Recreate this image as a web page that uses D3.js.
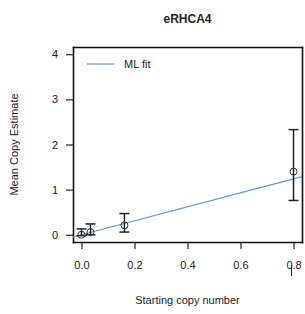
<!DOCTYPE html>
<html>
<head>
<meta charset="utf-8">
<script src="https://d3js.org/d3.v7.min.js"></script>
<style>
  body { margin: 0; background: #fff; }
  text { font-family: "Liberation Sans", Arial, sans-serif; fill: #222; }
</style>
</head>
<body>
<svg width="305" height="314"></svg>
<script>
// starting copy number vs mean copy estimate with error bars
let startCopy = [0.0, 0.034, 0.162, 0.8]
let meanEst = [0.0, 0.06, 0.21, 1.4]
let lowerEst = [-0.02, 0.0, 0.06, 0.76]
let upperEst = [0.13, 0.24, 0.47, 2.33]
let fitSlope = 1.55
let xTicks = [0, 0.2, 0.4, 0.6, 0.8]
let yTicks = [0, 1, 2, 3, 4]

let svg = d3.select('svg')
let plotL = 73, plotR = 302, plotT = 47, plotB = 242

let x = d3.scaleLinear().domain([-0.032, 0.832]).range([plotL, plotR])
let y = d3.scaleLinear().domain([-0.16, 4.16]).range([plotB, plotT])

let xAxis = svg.append('g')
  .attr('transform', 'translate(0,' + plotB + ')')
  .call(d3.axisBottom(x).tickValues(xTicks).tickFormat(d3.format('.1f')).tickSizeInner(7).tickSizeOuter(0).tickPadding(12))
let yAxis = svg.append('g')
  .attr('transform', 'translate(' + plotL + ',0)')
  .call(d3.axisLeft(y).tickValues(yTicks).tickFormat(d3.format('d')).tickSizeInner(7).tickSizeOuter(0).tickPadding(8))
// top and right sides of the frame
let topAxis = svg.append('g')
  .attr('transform', 'translate(0,' + plotT + ')')
  .call(d3.axisTop(x).tickValues([]).tickSizeOuter(0))
let rightAxis = svg.append('g')
  .attr('transform', 'translate(' + plotR + ',0)')
  .call(d3.axisRight(y).tickValues([]).tickSizeOuter(0))

;[xAxis, yAxis, topAxis, rightAxis].forEach(a => {
  a.select('.domain')
    .attr('stroke', '#111')
    .attr('stroke-width', 1.6)
    .attr('stroke-linecap', 'square')
  a.selectAll('line').attr('stroke', '#222').attr('stroke-width', 1.2)
  a.selectAll('text').attr('font-size', 11).style('font-family', '"Liberation Sans", Arial, sans-serif').attr('fill', '#222')
})

// stray mark over the 0.8 label
xAxis.append('line')
  .attr('x1', x(0.8) - 2).attr('x2', x(0.8) - 2)
  .attr('y1', 23).attr('y2', 34)
  .attr('stroke', '#222').attr('stroke-width', 1)

// ML fit line
let fitLine = d3.line().x(d => x(d)).y(d => y(fitSlope * d))
svg.append('path')
  .datum(x.domain())
  .attr('d', fitLine)
  .attr('fill', 'none')
  .attr('stroke', '#5b9bd5')
  .attr('stroke-width', 1.2)

// error bars
let cap = 5
let bars = svg.append('g')
startCopy.forEach((s, i) => {
  let cx = x(s)
  bars.append('line')
    .attr('x1', cx).attr('x2', cx)
    .attr('y1', y(lowerEst[i])).attr('y2', y(upperEst[i]))
    .attr('stroke', '#222').attr('stroke-width', 1.5)
  ;[lowerEst[i], upperEst[i]].forEach(v => {
    bars.append('line')
      .attr('x1', cx - cap).attr('x2', cx + cap)
      .attr('y1', y(v)).attr('y2', y(v))
      .attr('stroke', '#222').attr('stroke-width', 1.5)
  })
})

// points
svg.append('g')
  .selectAll('circle')
  .data(startCopy)
  .enter().append('circle')
  .attr('cx', d => x(d))
  .attr('cy', (d, i) => y(meanEst[i]))
  .attr('r', 3.5)
  .attr('fill', 'none')
  .attr('stroke', '#333')
  .attr('stroke-width', 1)

// legend
svg.append('line')
  .attr('x1', 87).attr('x2', 114).attr('y1', 64).attr('y2', 64)
  .attr('stroke', '#5b9bd5').attr('stroke-width', 1.2)
svg.append('text')
  .attr('x', 124).attr('y', 68)
  .attr('font-size', 11)
  .text('ML fit')

// titles
svg.append('text')
  .attr('x', (plotL + plotR) / 2).attr('y', 23)
  .attr('text-anchor', 'middle')
  .attr('font-size', 12).attr('font-weight', 'bold')
  .text('eRHCA4')

svg.append('text')
  .attr('x', (plotL + plotR) / 2).attr('y', 304)
  .attr('text-anchor', 'middle')
  .attr('font-size', 11)
  .text('Starting copy number')

svg.append('text')
  .attr('transform', 'translate(18,' + ((plotT + plotB) / 2) + ') rotate(-90)')
  .attr('text-anchor', 'middle')
  .attr('font-size', 11)
  .text('Mean Copy Estimate')
</script>
</body>
</html>
